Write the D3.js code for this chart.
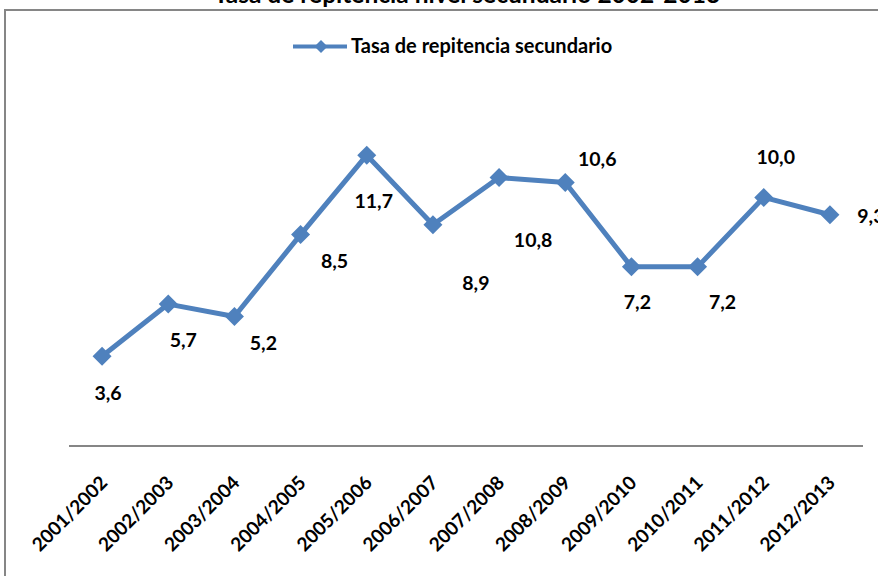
<!DOCTYPE html>
<html>
<head>
<meta charset="utf-8">
<script src="https://cdn.jsdelivr.net/npm/d3@7"></script>
<style>
  body { margin: 0; background: #fff; }
  svg { display: block; font-family: Lato, "Noto Sans", sans-serif; font-weight: bold; }
</style>
</head>
<body>
<svg id="chart"></svg>
<script>
const categories = ['2001/2002', '2002/2003', '2003/2004', '2004/2005', '2005/2006', '2006/2007',
    '2007/2008', '2008/2009', '2009/2010', '2010/2011', '2011/2012', '2012/2013']
const values = [3.6, 5.7, 5.2, 8.5, 11.7, 8.9, 10.8, 10.6, 7.2, 7.2, 10.0, 9.3]
const seriesName = 'Tasa de repitencia secundario'
const title = 'Tasa de repitencia nivel secundario 2002-2013'

// where each value label sits relative to its point (the labels were moved by hand)
const labelNudge = [[6, 36], [15, 35], [29, 26], [34, 26], [7, 45], [43, 58],
    [34, 62], [32, -24], [6, 35], [25, 35], [12, -41], [41, 1]]

const width = 878
const height = 576
const blue = '#4F81BD'
const grey = '#868686'

const svg = d3.select('#chart')
    .attr('width', width)
    .attr('height', height)

// chart frame
svg.append('rect')
    .attr('x', 5)
    .attr('y', 10)
    .attr('width', width + 10)
    .attr('height', height)
    .attr('fill', 'none')
    .attr('stroke', grey)
    .attr('stroke-width', 2)

svg.append('text')
    .attr('x', 467)
    .attr('y', 3)
    .attr('text-anchor', 'middle')
    .style('font-size', '24.5px')
    .text(title)

const x = d3.scalePoint()
    .domain(categories)
    .range([69, 863])
    .padding(0.5)

const y = d3.scaleLinear()
    .domain([0, 14])
    .range([445.5, 445.5 - 14 * 24.81])

// category axis
const xAxis = svg.append('g')
    .attr('transform', 'translate(0,446)')
    .call(d3.axisBottom(x).tickSize(0).tickPadding(0))
xAxis.select('.domain')
    .attr('stroke', grey)
    .attr('stroke-width', 2)
    .attr('d', 'M69,0H863')
xAxis.selectAll('text')
    .attr('fill', '#000')
    .attr('dy', null)
    .attr('y', 0)
    .attr('text-anchor', 'end')
    .attr('transform', 'translate(6,38) rotate(-45)')
    .style('font-size', '19px')
    .style('font-family', 'Lato, "Noto Sans", sans-serif')
    .style('font-weight', 'bold')

const diamond = r => `M0,${-r}L${r},0L0,${r}L${-r},0Z`

// line
svg.append('path')
    .datum(values)
    .attr('fill', 'none')
    .attr('stroke', blue)
    .attr('stroke-width', 5)
    .attr('stroke-linejoin', 'round')
    .attr('d', d3.line()
        .x((d, i) => x(categories[i]))
        .y(d => y(d)))

// markers
svg.append('g')
    .selectAll('path')
    .data(values)
    .join('path')
    .attr('transform', (d, i) => `translate(${x(categories[i])},${y(d)})`)
    .attr('d', diamond(9.5))
    .attr('fill', blue)

// value labels
svg.append('g')
    .selectAll('text')
    .data(values)
    .join('text')
    .attr('x', (d, i) => x(categories[i]) + labelNudge[i][0])
    .attr('y', (d, i) => y(d) + labelNudge[i][1])
    .attr('text-anchor', 'middle')
    .attr('dominant-baseline', 'central')
    .style('font-size', '19.5px')
    .text(d => d3.format('.1f')(d).replace('.', ','))

// legend
const legend = svg.append('g')
legend.append('line')
    .attr('x1', 293)
    .attr('x2', 347)
    .attr('y1', 46.5)
    .attr('y2', 46.5)
    .attr('stroke', blue)
    .attr('stroke-width', 4)
legend.append('path')
    .attr('transform', 'translate(321,46.5)')
    .attr('d', diamond(6.5))
    .attr('fill', blue)
legend.append('text')
    .attr('x', 351)
    .attr('y', 53)
    .style('font-size', '20px')
    .text(seriesName)
</script>
</body>
</html>
